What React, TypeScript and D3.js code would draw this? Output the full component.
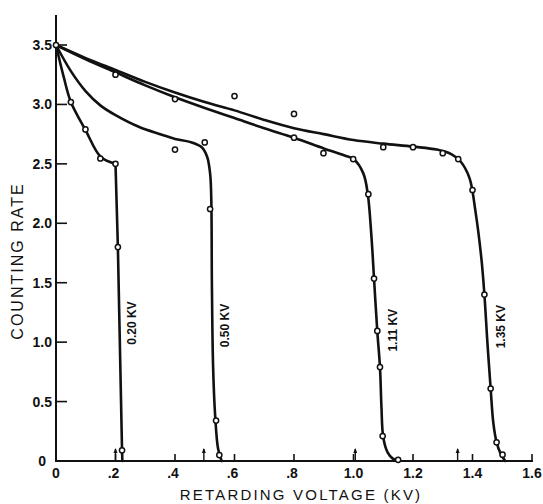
import React, { useEffect, useRef } from 'react';
import * as d3 from 'd3';

// tick labels
const xTicks = [0, 0.2, 0.4, 0.6, 0.8, 1.0, 1.2, 1.4, 1.6];
const xTickLabels = ['0', '.2', '.4', '.6', '.8', '1.0', '1.2', '1.4', '1.6'];
const yTicks = [0, 0.5, 1.0, 1.5, 2.0, 2.5, 3.0, 3.5];
const yTickLabels = ['0', '0.5', '1.0', '1.5', '2.0', '2.5', '3.0', '3.5'];

// measured points (circles)
const pts020: [number, number][] = [
  [0, 3.5], [0.05, 3.02], [0.099, 2.79], [0.149, 2.545], [0.2, 2.5], [0.208, 1.8], [0.222, 0.09]
];
const pts050: [number, number][] = [
  [0.4, 2.62], [0.5, 2.68], [0.518, 2.12], [0.538, 0.34], [0.549, 0.05]
];
const pts111: [number, number][] = [
  [0.2, 3.25], [0.4, 3.045], [0.8, 2.72], [0.899, 2.59], [0.999, 2.54], [1.05, 2.245],
  [1.069, 1.535], [1.08, 1.094], [1.089, 0.79], [1.098, 0.21], [1.15, 0.01]
];
const pts135: [number, number][] = [
  [0.6, 3.07], [0.8, 2.92], [1.1, 2.64], [1.2, 2.64], [1.3, 2.59], [1.352, 2.54],
  [1.4, 2.28], [1.44, 1.4], [1.461, 0.61], [1.481, 0.157], [1.501, 0.053]
];

// hand drawn curves (0.20 KV has a sharp corner, then a straight drop)
const curve020: [number, number][] = [
  [0, 3.5], [0.025, 3.24], [0.05, 3.02], [0.1, 2.78], [0.15, 2.56], [0.2, 2.5]
];
const drop020: [number, number][] = [[0.2, 2.5], [0.208, 1.8], [0.222, 0.09], [0.223, 0]];
const curve050: [number, number][] = [
  [0, 3.5], [0.05, 3.28], [0.1, 3.11], [0.15, 2.99], [0.2, 2.91], [0.28, 2.81],
  [0.35, 2.75], [0.4, 2.71], [0.45, 2.685], [0.49, 2.64], [0.508, 2.56], [0.518, 2.42],
  [0.522, 2.2], [0.524, 1.5], [0.528, 0.8], [0.535, 0.38], [0.545, 0.1], [0.557, 0]
];
const curve111: [number, number][] = [
  [0, 3.5], [0.1, 3.38], [0.2, 3.27], [0.3, 3.16], [0.4, 3.06], [0.5, 2.97], [0.6, 2.885],
  [0.7, 2.8], [0.8, 2.72], [0.9, 2.63], [0.97, 2.57], [1.0, 2.54], [1.033, 2.42],
  [1.048, 2.245], [1.06, 1.9], [1.069, 1.535], [1.08, 1.09], [1.089, 0.79],
  [1.094, 0.45], [1.1, 0.2], [1.115, 0.07], [1.132, 0.02], [1.15, 0]
];
const curve135: [number, number][] = [
  [0, 3.5], [0.1, 3.39], [0.2, 3.29], [0.3, 3.19], [0.4, 3.1], [0.5, 3.02], [0.6, 2.95],
  [0.7, 2.87], [0.8, 2.8], [0.9, 2.75], [1.0, 2.7], [1.1, 2.67], [1.2, 2.645],
  [1.28, 2.62], [1.33, 2.58], [1.36, 2.52], [1.39, 2.38], [1.41, 2.1], [1.43, 1.7],
  [1.44, 1.4], [1.45, 1.0], [1.461, 0.61], [1.47, 0.32], [1.481, 0.157],
  [1.495, 0.06], [1.51, 0]
];

const curveLabels = ['0.20 KV', '0.50 KV', '1.11 KV', '1.35 KV'];
const labelPos: [number, number][] = [[0.27, 1.16], [0.58, 1.14], [1.145, 1.1], [1.51, 1.13]];
const arrowAt = [0.2, 0.497, 1.006, 1.35];

const App = () => {
  const svgRef = useRef<SVGSVGElement>(null);

  useEffect(() => {
    document.body.style.margin = '0';
    const svg = d3.select(svgRef.current);
    svg.selectAll('*').remove();

    const x = d3.scaleLinear().domain([0, 1.6]).range([56, 532]);
    const y = d3.scaleLinear().domain([0, 3.5]).range([461, 45]);
    const ink = '#111';
    const font = '"Liberation Sans", Arial, sans-serif';

    // axes
    svg.append('line').attr('x1', x(0)).attr('x2', x(0)).attr('y1', y(0) + 1).attr('y2', 15)
      .attr('stroke', ink).attr('stroke-width', 2);
    svg.append('line').attr('x1', x(0) - 1).attr('x2', x(1.6) + 1).attr('y1', y(0)).attr('y2', y(0))
      .attr('stroke', ink).attr('stroke-width', 2);

    svg.selectAll('.ytick').data(yTicks.slice(1)).join('line')
      .attr('x1', x(0)).attr('x2', x(0) + 11)
      .attr('y1', d => y(d)).attr('y2', d => y(d))
      .attr('stroke', ink).attr('stroke-width', 1.6);
    svg.selectAll('.xtick').data(xTicks.slice(1)).join('line')
      .attr('x1', d => x(d)).attr('x2', d => x(d))
      .attr('y1', y(0)).attr('y2', y(0) - 7)
      .attr('stroke', ink).attr('stroke-width', 1.6);

    svg.selectAll('.ylab').data(yTicks).join('text')
      .attr('x', d => (d === 0 ? 46 : 52)).attr('y', d => y(d) + 5)
      .attr('text-anchor', 'end')
      .attr('font-family', font).attr('font-weight', 'bold').attr('font-size', 14)
      .attr('fill', ink)
      .text((d, i) => yTickLabels[i]);
    svg.selectAll('.xlab').data(xTicks).join('text')
      .attr('x', d => x(d) - (d > 0 && d < 1 ? 2 : 0)).attr('y', 478)
      .attr('text-anchor', 'middle')
      .attr('font-family', font).attr('font-weight', 'bold').attr('font-size', 14)
      .attr('fill', ink)
      .text((d, i) => xTickLabels[i]);

    svg.append('text')
      .attr('x', 301).attr('y', 500).attr('text-anchor', 'middle')
      .attr('font-family', font).attr('font-size', 15).attr('letter-spacing', 2.2)
      .attr('fill', ink).text('RETARDING VOLTAGE (KV)');
    svg.append('text')
      .attr('transform', 'translate(23,261) rotate(-90)').attr('text-anchor', 'middle')
      .attr('font-family', font).attr('font-size', 16).attr('letter-spacing', 2)
      .attr('fill', ink).text('COUNTING RATE');

    // arrows marking the set voltages
    arrowAt.forEach(v => {
      const g = svg.append('g');
      g.append('line').attr('x1', x(v)).attr('x2', x(v)).attr('y1', y(0)).attr('y2', y(0) - 12)
        .attr('stroke', ink).attr('stroke-width', 1.4);
      g.append('path')
        .attr('d', `M${x(v) - 2},${y(0) - 8} L${x(v)},${y(0) - 13} L${x(v) + 2},${y(0) - 8} Z`)
        .attr('fill', ink);
    });

    // curves
    const line = d3.line<[number, number]>()
      .x(d => x(d[0])).y(d => y(d[1]))
      .curve(d3.curveCatmullRom.alpha(0.5));
    const straight = d3.line<[number, number]>()
      .x(d => x(d[0])).y(d => y(d[1]));
    [line(curve020), straight(drop020), line(curve050), line(curve111), line(curve135)].forEach(p => {
      svg.append('path').attr('d', p).attr('fill', 'none')
        .attr('stroke', ink).attr('stroke-width', 2.6)
        .attr('stroke-linejoin', 'round').attr('stroke-linecap', 'round');
    });

    // data circles
    [pts020, pts050, pts111, pts135].forEach(p => {
      svg.append('g').selectAll('circle').data(p).join('circle')
        .attr('cx', d => x(d[0])).attr('cy', d => y(d[1])).attr('r', 2.6)
        .attr('fill', '#fff').attr('stroke', ink).attr('stroke-width', 1.5);
    });

    // curve labels
    curveLabels.forEach((t, i) => {
      svg.append('text')
        .attr('transform', `translate(${x(labelPos[i][0])},${y(labelPos[i][1])}) rotate(-90)`)
        .attr('text-anchor', 'middle')
        .attr('font-family', font).attr('font-weight', 'bold').attr('font-size', 12)
        .attr('fill', ink).text(t);
    });
  }, []);

  return (
    <svg ref={svgRef} width={543} height={504}
      style={{ display: 'block', background: '#fff' }} />
  );
};

export default App;
